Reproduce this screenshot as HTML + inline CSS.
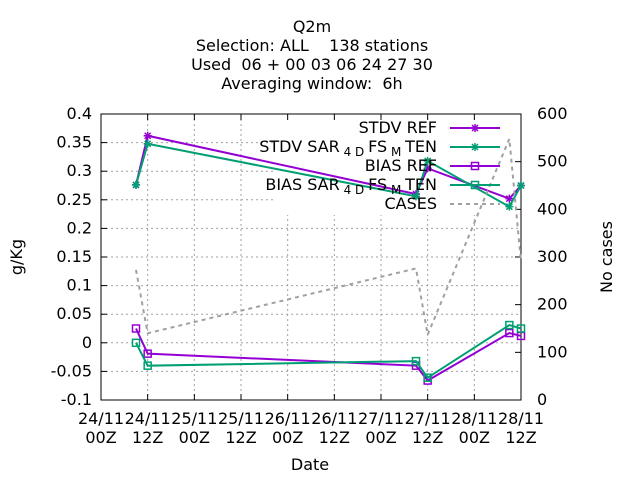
<!DOCTYPE html>
<html><head><meta charset="utf-8"><style>
body{margin:0;background:#fff}
svg{display:block;font-family:"DejaVu Sans","Liberation Sans",sans-serif;font-size:16px}
</style></head><body>
<svg id="chart" width="640" height="480">
<rect width="640" height="480" fill="#fff"/>
<g id="title" text-anchor="middle">
<text x="312" y="32">Q2m</text>
<text x="312" y="51" xml:space="preserve">Selection: ALL    138 stations</text>
<text x="312" y="70" xml:space="preserve">Used  06 + 00 03 06 24 27 30</text>
<text x="312" y="89" xml:space="preserve">Averaging window:  6h</text>
</g>
<g id="grid"></g>
<rect x="276" y="115" width="244" height="100" fill="#fff"/>
<g id="axes"></g>
<g id="series"></g>
<g id="legend"></g>
<text x="22" y="257" text-anchor="middle" transform="rotate(-90 22 257)">g/Kg</text>
<text x="612" y="257" text-anchor="middle" transform="rotate(-90 612 257)">No cases</text>
<text x="310" y="470" text-anchor="middle">Date</text>
</svg>
<script>
const hours = [9, 12, 81, 84, 105, 108];
const stdvRef = [0.276, 0.362, 0.260, 0.305, 0.252, 0.275];
const stdvSar = [0.276, 0.348, 0.256, 0.318, 0.238, 0.275];
const biasRef = [0.025, -0.019, -0.040, -0.066, 0.017, 0.012];
const biasSar = [0.000, -0.040, -0.032, -0.061, 0.031, 0.025];
const cases = [273, 140, 276, 137, 548, 290];
const yTicks = [-0.1, -0.05, 0, 0.05, 0.1, 0.15, 0.2, 0.25, 0.3, 0.35, 0.4];
const yTickLabels = ["-0.1","-0.05","0","0.05","0.1","0.15","0.2","0.25","0.3","0.35","0.4"];
const y2Ticks = [0, 100, 200, 300, 400, 500, 600];
const xTicks = [0, 12, 24, 36, 48, 60, 72, 84, 96, 108];
const xTickLabels1 = ["24/11","24/11","25/11","25/11","26/11","26/11","27/11","27/11","28/11","28/11"];
const xTickLabels2 = ["00Z","12Z","00Z","12Z","00Z","12Z","00Z","12Z","00Z","12Z"];

const L=101, R=521, T=114, B=400;
const NS="http://www.w3.org/2000/svg";
const xS=h=>L+(h-0)/108*(R-L);
const yS=v=>B-(v+0.1)/0.5*(B-T);
const y2S=v=>B-v/600*(B-T);
function mk(tag,attrs,parent){const e=document.createElementNS(NS,tag);for(const k in attrs)e.setAttribute(k,attrs[k]);parent.appendChild(e);return e;}
const grid=document.getElementById('grid'),axes=document.getElementById('axes'),ser=document.getElementById('series'),leg=document.getElementById('legend');
const gstyle={stroke:"#a0a0a0","stroke-width":1,"stroke-dasharray":"2,3"};
yTicks.forEach((v,i)=>{
 const y=yS(v);
 if(i>0&&i<yTicks.length-1){const g=mk('line',Object.assign({x1:L,x2:R,y1:y,y2:y},gstyle),grid);
 
 }
 const t=mk('line',{x1:L,x2:L+6,y1:y,y2:y,stroke:"#000"},axes);
 
 
 const tx=mk('text',{x:L-9,y:y+5,"text-anchor":"end"},axes);tx.textContent=yTickLabels[i];
 
 
});
y2Ticks.forEach(v=>{
 const y=y2S(v);
 const t=mk('line',{x1:R-6,x2:R,y1:y,y2:y,stroke:"#000"},axes);
 
 
 const tx=mk('text',{x:R+16,y:y+5},axes);tx.textContent=v;
 
 
});
xTicks.forEach((h,i)=>{
 const x=xS(h);
 if(i>0&&i<xTicks.length-1){const g=mk('line',Object.assign({x1:x,x2:x,y1:T,y2:B},gstyle),grid);
 
 }
 const t=mk('line',{x1:x,x2:x,y1:B,y2:B-6,stroke:"#000"},axes);
 
 
 const t2=mk('line',{x1:x,x2:x,y1:T,y2:T+6,stroke:"#000"},axes);
 
 
 const a=mk('text',{x:x,y:424,"text-anchor":"middle"},axes);a.textContent=xTickLabels1[i];
 
 
 const b=mk('text',{x:x,y:443,"text-anchor":"middle"},axes);b.textContent=xTickLabels2[i];
 
 
});
const frame=mk('rect',{x:L,y:T,width:R-L,height:B-T,fill:"none",stroke:"#000"},axes);



function star(x,y,c,p){const d=`M${x-4} ${y}H${x+4}M${x} ${y-4}V${y+4}M${x-3} ${y-3}L${x+3} ${y+3}M${x-3} ${y+3}L${x+3} ${y-3}`;return mk('path',{d:d,stroke:c,"stroke-width":1.5,fill:"none"},p);}
function sq(x,y,c,p){return mk('rect',{x:x-3.5,y:y-3.5,width:7,height:7,stroke:c,"stroke-width":1.5,fill:"none"},p);}
const PUR="#9400d3",GRN="#009e73";
const list=[
 {v:stdvRef,c:PUR,m:star,n:'stdv-ref'},
 {v:stdvSar,c:GRN,m:star,n:'stdv-sar'},
 {v:biasRef,c:PUR,m:sq,n:'bias-ref'},
 {v:biasSar,c:GRN,m:sq,n:'bias-sar'}];
list.forEach(s=>{
 const pts=hours.map((h,i)=>xS(h)+","+yS(s.v[i])).join(" ");
 const pl=mk('polyline',{points:pts,fill:"none",stroke:s.c,"stroke-width":2},ser);
 
 
 hours.forEach((h,i)=>{const m=s.m(xS(h),yS(s.v[i]),s.c,ser);
 
 });
});
const cl=mk('polyline',{points:hours.map((h,i)=>xS(h)+","+y2S(cases[i])).join(" "),fill:"none",stroke:"#a0a0a0","stroke-width":2,"stroke-dasharray":"4,4"},ser);



const legRows=[
 {y:128,html:'STDV REF',c:PUR,m:star,dash:null},
 {y:147,html:'STDV SAR<tspan font-size="12" dy="4"> 4 D </tspan><tspan dy="-4">FS</tspan><tspan font-size="12" dy="4"> M </tspan><tspan dy="-4">TEN</tspan>',c:GRN,m:star,dash:null},
 {y:166,html:'BIAS REF',c:PUR,m:sq,dash:null},
 {y:185,html:'BIAS SAR<tspan font-size="12" dy="4"> 4 D </tspan><tspan dy="-4">FS</tspan><tspan font-size="12" dy="4"> M </tspan><tspan dy="-4">TEN</tspan>',c:GRN,m:sq,dash:null},
 {y:204,html:'CASES',c:"#a0a0a0",m:null,dash:"4,4"}];
legRows.forEach(r=>{
 const t=mk('text',{x:437,y:r.y+5,"text-anchor":"end"},leg);t.innerHTML=r.html;
 
 
 const a={x1:450,x2:500,y1:r.y,y2:r.y,stroke:r.c,"stroke-width":2};if(r.dash)a["stroke-dasharray"]=r.dash;
 const l=mk('line',a,leg);
 
 
 if(r.m){const m=r.m(475,r.y,r.c,leg);
 
 }
});
</script>
</body></html>
